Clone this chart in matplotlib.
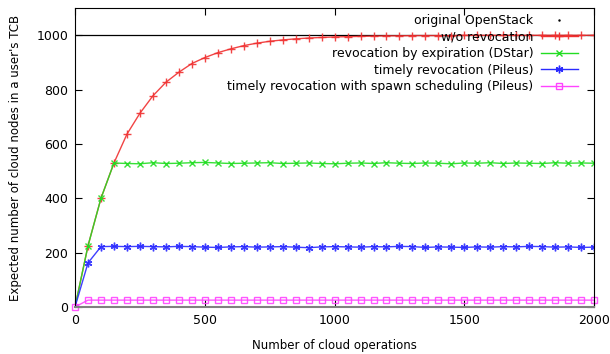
import numpy as np
import matplotlib
matplotlib.use('Agg')
import matplotlib.pyplot as plt
from matplotlib.lines import Line2D

# number of cloud operations (every 50)
ops = np.arange(0, 2001, 50)

openstack = [1000] * len(ops)

wo_revocation = [0, 225, 400, 530, 636, 713, 777, 827, 864, 896, 918, 936, 950, 962,
                 971, 978, 983, 987, 990, 992, 994, 995, 996, 997, 998, 998, 999, 999,
                 999, 999, 1000, 1000, 1000, 1000, 1000, 1000, 1000, 1000, 1000, 1000, 1000]

dstar = [0, 225, 400, 530,
         528, 527, 531, 528, 529, 531, 532, 530, 528, 529,
         530, 531, 528, 529, 530, 528, 527, 529, 530, 528,
         531, 529, 528, 530, 529, 527, 530, 529, 531, 528,
         530, 529, 528, 531, 529, 530, 529]

pileus = [0, 162, 222,
          223, 222, 223, 222, 221, 223, 222, 220, 219, 221,
          222, 220, 221, 222, 220, 218, 221, 222, 221, 220,
          222, 221, 223, 222, 219, 221, 220, 219, 221, 220,
          222, 221, 223, 222, 220, 221, 219, 220]

pileus_spawn = [0] + [25] * (len(ops) - 1)

labels = ['original OpenStack', 'w/o revocation', 'revocation by expiration (DStar)',
          'timely revocation (Pileus)', 'timely revocation with spawn scheduling (Pileus)']

plt.rcParams['font.family'] = ['DejaVu Sans']
plt.rcParams['font.size'] = 9

fig = plt.figure(figsize=(6.1, 3.54), dpi=100)
ax = fig.add_axes([0.123, 0.133, 0.851, 0.844])

red = '#f03030'
green = '#22dd22'
blue = '#2a2aff'
magenta = '#ff44ff'

ax.plot(ops, openstack, color='black', lw=0.9, zorder=1)
ax.plot(ops, wo_revocation, color=red, lw=1, marker='+', ms=6, mew=1, alpha=0.9)
ax.plot(ops, dstar, color=green, lw=1, marker='x', ms=5, mew=1, alpha=0.9)
ax.plot(ops, pileus, color=blue, lw=1, marker=(6, 2, 0), ms=5.5, mew=1, alpha=0.9)
ax.plot(ops, pileus_spawn, color=magenta, lw=1, marker='s', ms=5, mew=1,
        mfc='none', alpha=0.9, clip_on=False)

handles = [
    Line2D([], [], color='black', ls='none', marker='.', ms=1.5),
    Line2D([], [], color=red, lw=1, marker='+', ms=6),
    Line2D([], [], color=green, lw=1, marker='x', ms=5),
    Line2D([], [], color=blue, lw=1, marker=(6, 2, 0), ms=5.5),
    Line2D([], [], color=magenta, lw=1, marker='s', ms=5, mfc='none'),
]
ax.legend(handles, labels, loc='upper right', bbox_to_anchor=(0.979, 0.997),
          frameon=False, markerfirst=False, handlelength=3.0, handletextpad=0.6,
          labelspacing=0.28, numpoints=1, borderaxespad=0, fontsize=9)

ax.set_xlim(0, 2000)
ax.set_ylim(0, 1100)
ax.set_xticks([0, 500, 1000, 1500, 2000])
ax.set_yticks([0, 200, 400, 600, 800, 1000])
ax.tick_params(direction='in', length=5, top=True, right=True, pad=5)
ax.spines['bottom'].set_color('#808080')
ax.spines['bottom'].set_linewidth(1.5)
ax.set_xlabel('Number of cloud operations', labelpad=9, fontsize=8.5)
ax.set_ylabel("Expected number of cloud nodes in a user's TCB", labelpad=10, fontsize=8.5)

fig.savefig('out.png', dpi=100)
